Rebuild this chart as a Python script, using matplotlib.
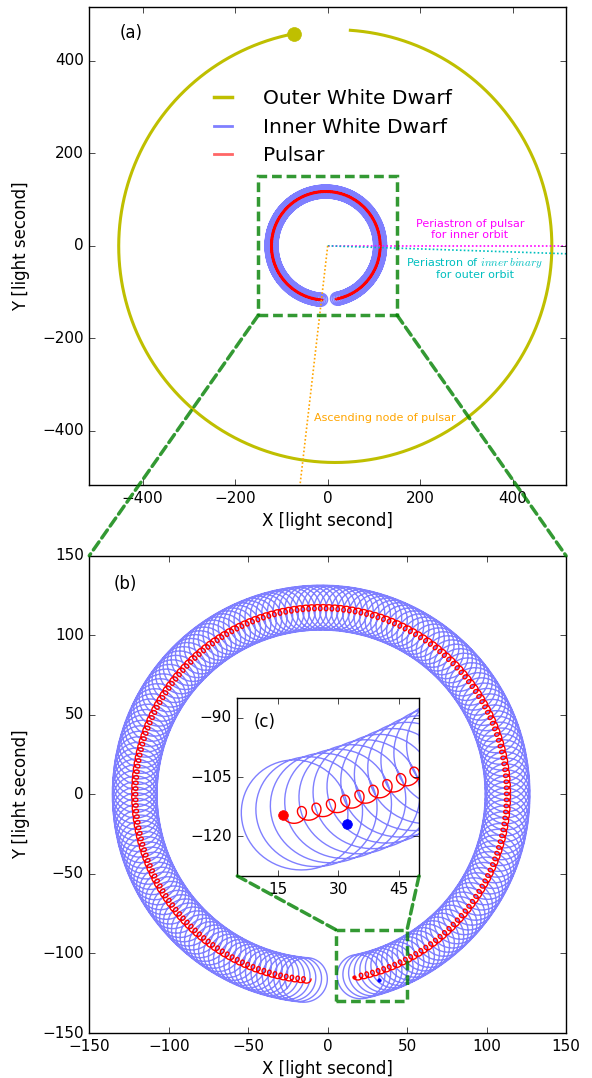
import numpy as np
import matplotlib
matplotlib.use('Agg')
import matplotlib.pyplot as plt
from matplotlib.lines import Line2D
from matplotlib.patches import Rectangle, ConnectionPatch

plt.style.use('classic')
plt.rcParams['mathtext.fontset'] = 'cm'
plt.rcParams['font.family'] = ['DejaVu Sans']
plt.rcParams['xtick.labelsize'] = 11
plt.rcParams['ytick.labelsize'] = 11

# orbit parameters (light seconds / degrees)
outer_a = 117.3        # barycentre of inner binary around the triple barycentre
outer_e = 0.035
outer_peri = -2.0      # periastron direction of the inner binary (outer orbit)
outer_start = -81.0    # position angle of the inner binary at the first epoch
outer_end = 264.0      # position angle at the last epoch
mass_ratio = 3.99      # (pulsar + inner WD) / outer WD
period_ratio = 200.9   # inner orbits per outer orbit
inner_a_wd = 14.1
inner_a_psr = 1.93
inner_start = -8.0     # direction barycentre -> inner WD at the first epoch

psr_peri_deg = 0.0     # dotted guide lines
outer_peri_line_deg = -1.9
asc_node_deg = 263.4

ticks_a = [-400, -200, 0, 200, 400]
ticks_b = [-150, -100, -50, 0, 50, 100, 150]
ticks_cx = [15, 30, 45]
ticks_cy = [-90, -105, -120]
zoom_box = [5, 50, -130, -85]
big_box = [-150, 150, -150, 150]

# --- orbits ---
e = outer_e
def ecc_anom(nu):
    return 2*np.arctan2(np.sqrt(1-e)*np.sin(nu/2), np.sqrt(1+e)*np.cos(nu/2))

nu0 = np.radians(outer_start - outer_peri)
nu1 = np.radians(outer_end - outer_peri)
E0, E1 = ecc_anom(nu0), ecc_anom(nu1)
M0, M1 = E0 - e*np.sin(E0), E1 - e*np.sin(E1)
M = np.linspace(M0, M1, 14000)
E = M.copy()
for i in range(20):
    E = E - (E - e*np.sin(E) - M)/(1 - e*np.cos(E))
nu = 2*np.arctan2(np.sqrt(1+e)*np.sin(E/2), np.sqrt(1-e)*np.cos(E/2))
r = outer_a*(1 - e*np.cos(E))
ang = nu + np.radians(outer_peri)
cmx, cmy = r*np.cos(ang), r*np.sin(ang)

phi = np.radians(inner_start) + period_ratio*(M - M0)
wd_x = cmx + inner_a_wd*np.cos(phi)
wd_y = cmy + inner_a_wd*np.sin(phi)
psr_x = cmx - inner_a_psr*np.cos(phi)
psr_y = cmy - inner_a_psr*np.sin(phi)
out_x = -mass_ratio*cmx
out_y = -mass_ratio*cmy

fig = plt.figure(figsize=(5.92, 10.78), dpi=100, facecolor='w')
ax_a = fig.add_axes([89.4/592, 1-485/1078, 476.6/592, 478.3/1078])
ax_b = fig.add_axes([89.3/592, 1-1033/1078, 476.7/592, 477.3/1078])
ax_c = fig.add_axes([237.3/592, 1-876/1078, 181.7/592, 178/1078])

# panel (a)
ax_a.plot(out_x, out_y, color='y', lw=2.2)
ax_a.plot(out_x[0], out_y[0], 'o', color='y', mec='y', ms=10)
ax_a.plot(wd_x, wd_y, color='b', alpha=0.5, lw=1)
ax_a.plot(psr_x, psr_y, color='r', lw=1)
L = 700
for deg, col in [(psr_peri_deg, 'magenta'), (outer_peri_line_deg, 'c'), (asc_node_deg, 'orange')]:
    ax_a.plot([0, L*np.cos(np.radians(deg))], [0, L*np.sin(np.radians(deg))],
              color=col, lw=1.2, dashes=(1.2, 1.6))
ax_a.text(307, 35, 'Periastron of pulsar\nfor inner orbit', color='magenta',
          fontsize=8, ha='center', va='center', linespacing=1.1)
ax_a.text(318, -48, 'Periastron of $inner\\,binary$\nfor outer orbit', color='c',
          fontsize=8, ha='center', va='center', linespacing=1.1)
ax_a.text(123, -372, 'Ascending node of pulsar', color='orange', fontsize=8,
          ha='center', va='center')
ax_a.add_patch(Rectangle((big_box[0], big_box[2]), big_box[1]-big_box[0], big_box[3]-big_box[2],
                         fill=False, ec='g', alpha=0.8, lw=2.5, ls=(0, (7, 3.5)), zorder=5))
handles = [Line2D([], [], color='y', lw=2.5),
           Line2D([], [], color='b', alpha=0.5, lw=2),
           Line2D([], [], color='r', alpha=0.6, lw=2)]
ax_a.legend(handles, ['Outer White Dwarf', 'Inner White Dwarf', 'Pulsar'],
            loc='upper left', bbox_to_anchor=(0.249, 0.827), frameon=False, fontsize=14.5,
            handlelength=1.5, handletextpad=1.25, labelspacing=0.46, borderpad=0,
            borderaxespad=0)
ax_a.text(0.064, 0.944, '(a)', transform=ax_a.transAxes, fontsize=12, va='center')
ax_a.set_xlim(-515, 515)
ax_a.set_ylim(-517, 517)
ax_a.set_xticks(ticks_a)
ax_a.set_yticks(ticks_a)
ax_a.set_xlabel('X [light second]')
ax_a.set_ylabel('Y [light second]', labelpad=9)

# panel (b)
ax_b.plot(wd_x, wd_y, color='b', alpha=0.5, lw=1)
ax_b.plot(psr_x, psr_y, color='r', lw=1)
ax_b.plot(wd_x[0], wd_y[0], 'o', color='b', mec='b', ms=2.5)
ax_b.plot(psr_x[0], psr_y[0], 'o', color='r', mec='r', ms=2.5)
ax_b.add_patch(Rectangle((zoom_box[0], zoom_box[2]), zoom_box[1]-zoom_box[0], zoom_box[3]-zoom_box[2],
                         fill=False, ec='g', alpha=0.8, lw=2.5, ls=(0, (7, 3.5)), zorder=5))
ax_b.text(0.05, 0.941, '(b)', transform=ax_b.transAxes, fontsize=12, va='center')
ax_b.set_xlim(-150, 150)
ax_b.set_ylim(-150, 150)
ax_b.set_xticks(ticks_b)
ax_b.set_yticks(ticks_b)
ax_b.set_xlabel('X [light second]')
ax_b.set_ylabel('Y [light second]', labelpad=9)

# inset (c)
ax_c.plot(wd_x, wd_y, color='b', alpha=0.5, lw=1)
ax_c.plot(psr_x, psr_y, color='r', lw=1)
ax_c.plot(wd_x[0], wd_y[0], 'o', color='b', mec='b', ms=7)
ax_c.plot(psr_x[0], psr_y[0], 'o', color='r', mec='r', ms=7)
ax_c.text(0.092, 0.866, '(c)', transform=ax_c.transAxes, fontsize=12, va='center')
ax_c.set_xlim(zoom_box[0], zoom_box[1])
ax_c.set_ylim(zoom_box[2], zoom_box[3])
ax_c.set_xticks(ticks_cx)
ax_c.set_yticks(ticks_cy)

# connectors
dash = dict(color='g', alpha=0.8, lw=2.5, ls=(0, (7, 3.5)))
for xa, xb in [(big_box[0], -150), (big_box[1], 150)]:
    fig.add_artist(ConnectionPatch((xa, big_box[2]), (xb, 150), ax_a.transData,
                                   ax_b.transData, **dash))
for xc in [zoom_box[0], zoom_box[1]]:
    fig.add_artist(ConnectionPatch((xc, zoom_box[2]), (xc, zoom_box[3]), ax_c.transData,
                                   ax_b.transData, **dash))

fig.savefig('out.png', dpi=100, facecolor='w')
